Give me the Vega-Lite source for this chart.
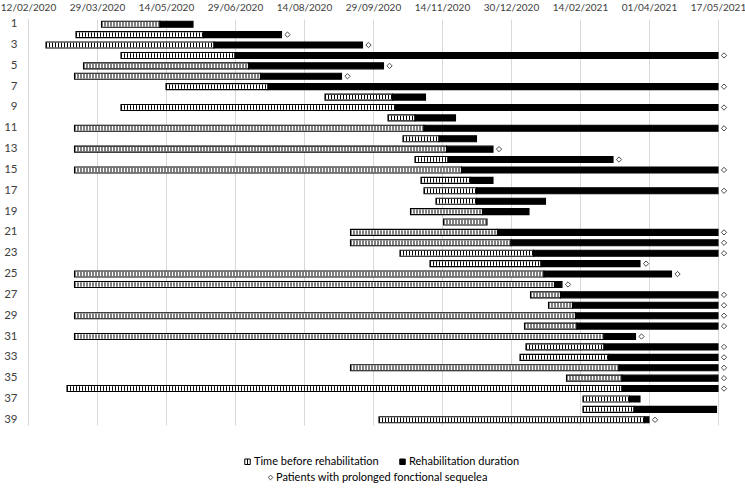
{
  "$schema": "https://vega.github.io/schema/vega-lite/v6.json",
  "autosize": {"type": "none"},
  "width": 690,
  "height": 406,
  "padding": {"left": 28, "top": 19, "right": 27, "bottom": 69},
  "background": "white",
  "config": {
    "view": {"stroke": null},
    "font": "Lato",
    "axis": {"labelFont": "Lato", "labelFontSize": 10, "labelColor": "#404040", "gridColor": "#d9d9d9", "gridWidth": 1, "ticks": false, "title": null},
    "legend": {"labelFont": "Lato", "labelFontSize": 11, "labelColor": "#000000", "title": null, "labelLimit": 0}
  },
  "data": {
    "values": [
      {"patient": 1, "start": "2020-04-01", "rehab": "2020-05-10", "end": "2020-06-01", "sequela": false},
      {"patient": 2, "start": "2020-03-15", "rehab": "2020-06-08", "end": "2020-07-30", "sequela": true},
      {"patient": 3, "start": "2020-02-24", "rehab": "2020-06-15", "end": "2020-09-22", "sequela": true},
      {"patient": 4, "start": "2020-04-14", "rehab": "2020-06-29", "end": "2021-05-17", "sequela": true},
      {"patient": 5, "start": "2020-03-20", "rehab": "2020-07-08", "end": "2020-10-06", "sequela": true},
      {"patient": 6, "start": "2020-03-14", "rehab": "2020-07-16", "end": "2020-09-08", "sequela": true},
      {"patient": 7, "start": "2020-05-14", "rehab": "2020-07-21", "end": "2021-05-17", "sequela": true},
      {"patient": 8, "start": "2020-08-28", "rehab": "2020-10-12", "end": "2020-11-03", "sequela": false},
      {"patient": 9, "start": "2020-04-14", "rehab": "2020-10-14", "end": "2021-05-17", "sequela": true},
      {"patient": 10, "start": "2020-10-09", "rehab": "2020-10-27", "end": "2020-11-23", "sequela": false},
      {"patient": 11, "start": "2020-03-14", "rehab": "2020-11-02", "end": "2021-05-17", "sequela": true},
      {"patient": 12, "start": "2020-10-19", "rehab": "2020-11-12", "end": "2020-12-07", "sequela": false},
      {"patient": 13, "start": "2020-03-14", "rehab": "2020-11-17", "end": "2020-12-18", "sequela": true},
      {"patient": 14, "start": "2020-10-27", "rehab": "2020-11-18", "end": "2021-03-08", "sequela": true},
      {"patient": 15, "start": "2020-03-14", "rehab": "2020-11-27", "end": "2021-05-17", "sequela": true},
      {"patient": 16, "start": "2020-10-31", "rehab": "2020-12-03", "end": "2020-12-18", "sequela": false},
      {"patient": 17, "start": "2020-11-02", "rehab": "2020-12-07", "end": "2021-05-17", "sequela": true},
      {"patient": 18, "start": "2020-11-10", "rehab": "2020-12-07", "end": "2021-01-22", "sequela": false},
      {"patient": 19, "start": "2020-10-24", "rehab": "2020-12-11", "end": "2021-01-11", "sequela": false},
      {"patient": 20, "start": "2020-11-15", "rehab": "2020-12-14", "end": null, "sequela": false},
      {"patient": 21, "start": "2020-09-14", "rehab": "2020-12-21", "end": "2021-05-17", "sequela": true},
      {"patient": 22, "start": "2020-09-14", "rehab": "2020-12-30", "end": "2021-05-17", "sequela": true},
      {"patient": 23, "start": "2020-10-17", "rehab": "2021-01-14", "end": "2021-05-17", "sequela": true},
      {"patient": 24, "start": "2020-11-06", "rehab": "2021-01-19", "end": "2021-03-26", "sequela": true},
      {"patient": 25, "start": "2020-03-14", "rehab": "2021-01-21", "end": "2021-04-16", "sequela": true},
      {"patient": 26, "start": "2020-03-14", "rehab": "2021-01-28", "end": "2021-02-02", "sequela": true},
      {"patient": 27, "start": "2021-01-12", "rehab": "2021-02-01", "end": "2021-05-17", "sequela": true},
      {"patient": 28, "start": "2021-01-24", "rehab": "2021-02-09", "end": "2021-05-17", "sequela": true},
      {"patient": 29, "start": "2020-03-14", "rehab": "2021-02-11", "end": "2021-05-17", "sequela": true},
      {"patient": 30, "start": "2021-01-08", "rehab": "2021-02-12", "end": "2021-05-17", "sequela": true},
      {"patient": 31, "start": "2020-03-14", "rehab": "2021-03-02", "end": "2021-03-23", "sequela": true},
      {"patient": 32, "start": "2021-01-09", "rehab": "2021-03-02", "end": "2021-05-17", "sequela": true},
      {"patient": 33, "start": "2021-01-05", "rehab": "2021-03-05", "end": "2021-05-17", "sequela": true},
      {"patient": 34, "start": "2020-09-14", "rehab": "2021-03-12", "end": "2021-05-17", "sequela": true},
      {"patient": 35, "start": "2021-02-05", "rehab": "2021-03-14", "end": "2021-05-17", "sequela": true},
      {"patient": 36, "start": "2020-03-09", "rehab": "2021-03-14", "end": "2021-05-17", "sequela": true},
      {"patient": 37, "start": "2021-02-16", "rehab": "2021-03-19", "end": "2021-03-26", "sequela": false},
      {"patient": 38, "start": "2021-02-16", "rehab": "2021-03-22", "end": "2021-05-16", "sequela": false},
      {"patient": 39, "start": "2020-10-03", "rehab": "2021-03-29", "end": "2021-04-01", "sequela": true}
    ]
  },
  "encoding": {
    "y": {
      "field": "patient",
      "type": "ordinal",
      "scale": {"paddingInner": 0, "paddingOuter": 0},
      "axis": {
        "values": [1, 3, 5, 7, 9, 11, 13, 15, 17, 19, 21, 23, 25, 27, 29, 31, 33, 35, 37, 39],
        "domain": true,
        "domainColor": "#d9d9d9",
        "domainWidth": 1,
        "grid": false,
        "labelPadding": 11,
        "labelFontSize": 11.5
      }
    }
  },
  "layer": [
    {
      "mark": {"type": "bar", "height": 6, "stroke": "black", "strokeWidth": 1.1},
      "encoding": {
        "x": {
          "field": "start",
          "type": "temporal",
          "scale": {
            "type": "utc",
            "nice": false,
            "domain": [
              {"year": 2020, "month": 2, "date": 12, "utc": true},
              {"year": 2021, "month": 5, "date": 17, "utc": true}
            ]
          },
          "axis": {
            "orient": "top",
            "domain": false,
            "grid": true,
            "labelPadding": 7,
            "labelFlush": false,
            "labelExpr": "utcFormat(datum.value, '%d/%m/%Y')",
            "values": [
              {"year": 2020, "month": 2, "date": 12, "utc": true},
              {"year": 2020, "month": 3, "date": 29, "utc": true},
              {"year": 2020, "month": 5, "date": 14, "utc": true},
              {"year": 2020, "month": 6, "date": 29, "utc": true},
              {"year": 2020, "month": 8, "date": 14, "utc": true},
              {"year": 2020, "month": 9, "date": 29, "utc": true},
              {"year": 2020, "month": 11, "date": 14, "utc": true},
              {"year": 2020, "month": 12, "date": 30, "utc": true},
              {"year": 2021, "month": 2, "date": 14, "utc": true},
              {"year": 2021, "month": 4, "date": 1, "utc": true},
              {"year": 2021, "month": 5, "date": 17, "utc": true}
            ]
          }
        },
        "x2": {"field": "rehab"},
        "color": {
          "datum": "Time before rehabilitation",
          "scale": {"domain": ["Time before rehabilitation", "Rehabilitation duration"], "range": ["white", "black"]},
          "legend": {
            "orient": "none",
            "direction": "horizontal",
            "legendX": 214,
            "legendY": 437,
            "symbolType": "M-1,-1H1V1H-1Z M0,-1V1",
            "symbolSize": 30,
            "symbolStrokeColor": "black",
            "symbolStrokeWidth": 1,
            "labelOffset": 1,
            "columnPadding": 18
          }
        }
      }
    },
    {
      "mark": {"type": "rule", "color": "black", "strokeWidth": 4.4, "strokeDash": [1, 2]},
      "encoding": {
        "x": {"field": "start", "type": "temporal"},
        "x2": {"field": "rehab"}
      }
    },
    {
      "transform": [{"filter": "datum.end != null"}],
      "mark": {"type": "bar", "height": 6, "stroke": "black", "strokeWidth": 1.1},
      "encoding": {
        "x": {"field": "rehab", "type": "temporal"},
        "x2": {"field": "end"},
        "color": {"datum": "Rehabilitation duration"}
      }
    },
    {
      "transform": [{"filter": "datum.sequela"}],
      "mark": {"type": "point", "filled": false, "stroke": "black", "strokeWidth": 1, "size": 28, "xOffset": 6},
      "encoding": {
        "x": {"field": "end", "type": "temporal"},
        "shape": {
          "datum": "Patients with prolonged fonctional sequelea",
          "scale": {"range": ["diamond"]},
          "legend": {
            "orient": "none",
            "legendX": 237,
            "legendY": 453,
            "symbolSize": 22,
            "symbolStrokeColor": "black",
            "symbolStrokeWidth": 1,
            "labelOffset": 0
          }
        }
      }
    }
  ]
}
